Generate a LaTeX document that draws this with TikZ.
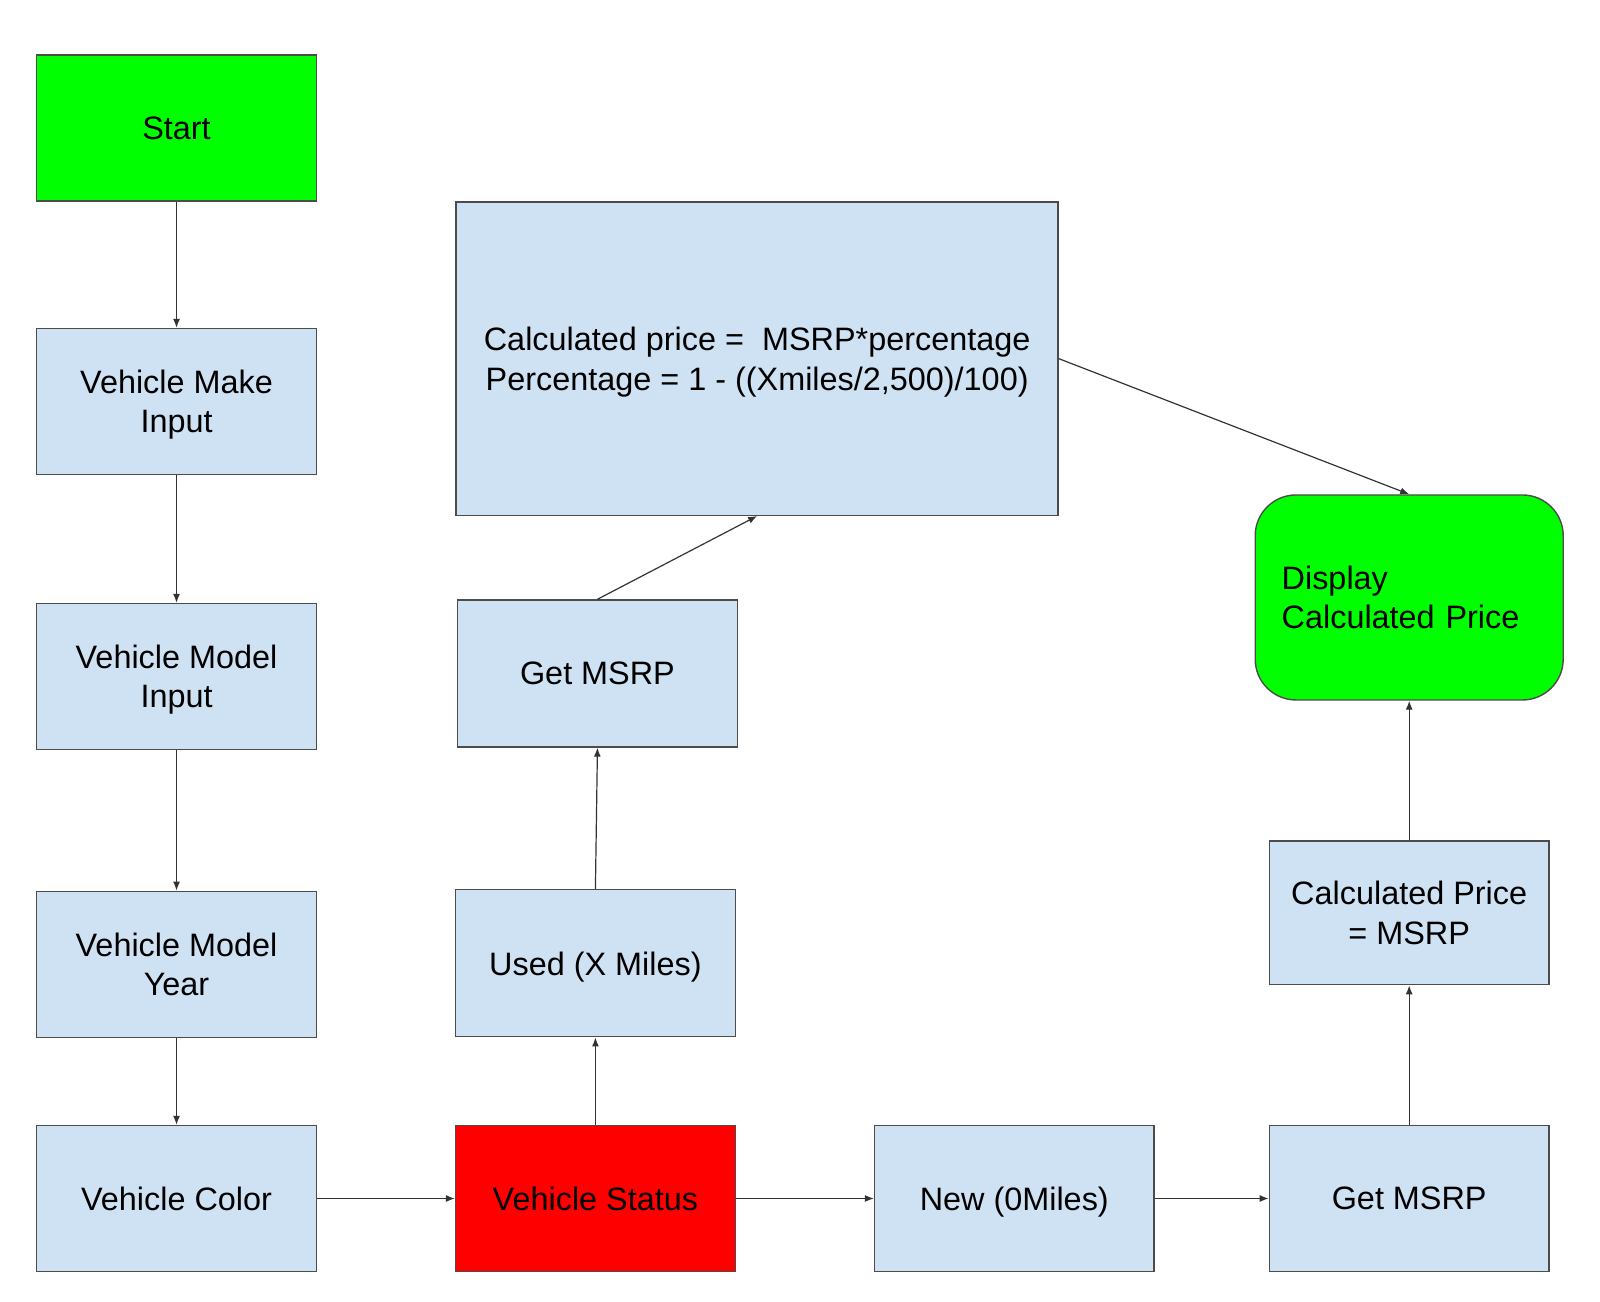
\documentclass[tikz,border=0pt]{standalone}
\usepackage{fontspec}
\setmainfont{Liberation Sans}
\usepackage{tikz}
\usetikzlibrary{arrows.meta}

\begin{document}
\begin{tikzpicture}[x=0.5102pt,y=-0.5102pt,
  >={Latex[length=4.5pt,width=3.5pt]},
  basebox/.style={draw=black!70,line width=0.7pt,fill=boxblue,inner sep=0pt,align=center,
    minimum width=139.8pt,minimum height=73pt,font=\fontsize{16.2}{19.6}\selectfont},
  box/.style={basebox,text depth=0pt},
  flow/.style={->,draw=black!80,line width=0.6pt}]
\definecolor{boxblue}{HTML}{CFE2F3}
\useasboundingbox (0,0) rectangle (1568,1275);
% left column
\node[box,fill={rgb,255:red,0;green,255;blue,0}] (start) at (173,125.5) {Start};
\node[box] (make) at (173,393.5) {Vehicle Make\\Input};
\node[box] (model) at (173,663) {Vehicle Model\\Input};
\node[box] (year) at (173,945) {Vehicle Model\\Year};
\node[box] (color) at (173,1174.5) {Vehicle Color};
% bottom row
\node[box,fill={rgb,255:red,255;green,0;blue,0}] (status) at (583.5,1174.5) {Vehicle Status};
\node[box] (new) at (994,1174.5) {New (0Miles)};
\node[box] (msrpnew) at (1381,1174.5) {Get MSRP};
% used branch
\node[box,minimum height=73.5pt] (used) at (583.5,944) {Used (X Miles)};
\node[box,minimum height=73.5pt] (msrpused) at (585.5,660) {Get MSRP};
\node[box,minimum width=301pt,minimum height=156.6pt] (calc) at (742,351.5) {Calculated price =~ MSRP*percentage\\Percentage = 1 - ((Xmiles/2,500)/100)};
% new branch
\node[box,minimum height=71.9pt] (calcnew) at (1381,894.5) {Calculated Price\\= MSRP};
\node[basebox,fill={rgb,255:red,0;green,255;blue,0},rounded corners=20.4pt,minimum width=154pt,minimum height=102.5pt,text width=127.5pt,align=left] (display) at (1381,585.5) {Display\\Calculated Price};
% connectors
\draw[flow] (start) -- (make);
\draw[flow] (make) -- (model);
\draw[flow] (model) -- (year);
\draw[flow] (year) -- (color);
\draw[flow] (color) -- (status);
\draw[flow] (status) -- (new);
\draw[flow] (new) -- (msrpnew);
\draw[flow] (msrpnew) -- (calcnew);
\draw[flow] (calcnew) -- (display);
\draw[flow] (status) -- (used);
\draw[flow] (used.north) -- (msrpused.south);
\draw[flow] (msrpused.north) -- (calc.south);
\draw[flow] (calc.east) -- (display.north);
\end{tikzpicture}
\end{document}
